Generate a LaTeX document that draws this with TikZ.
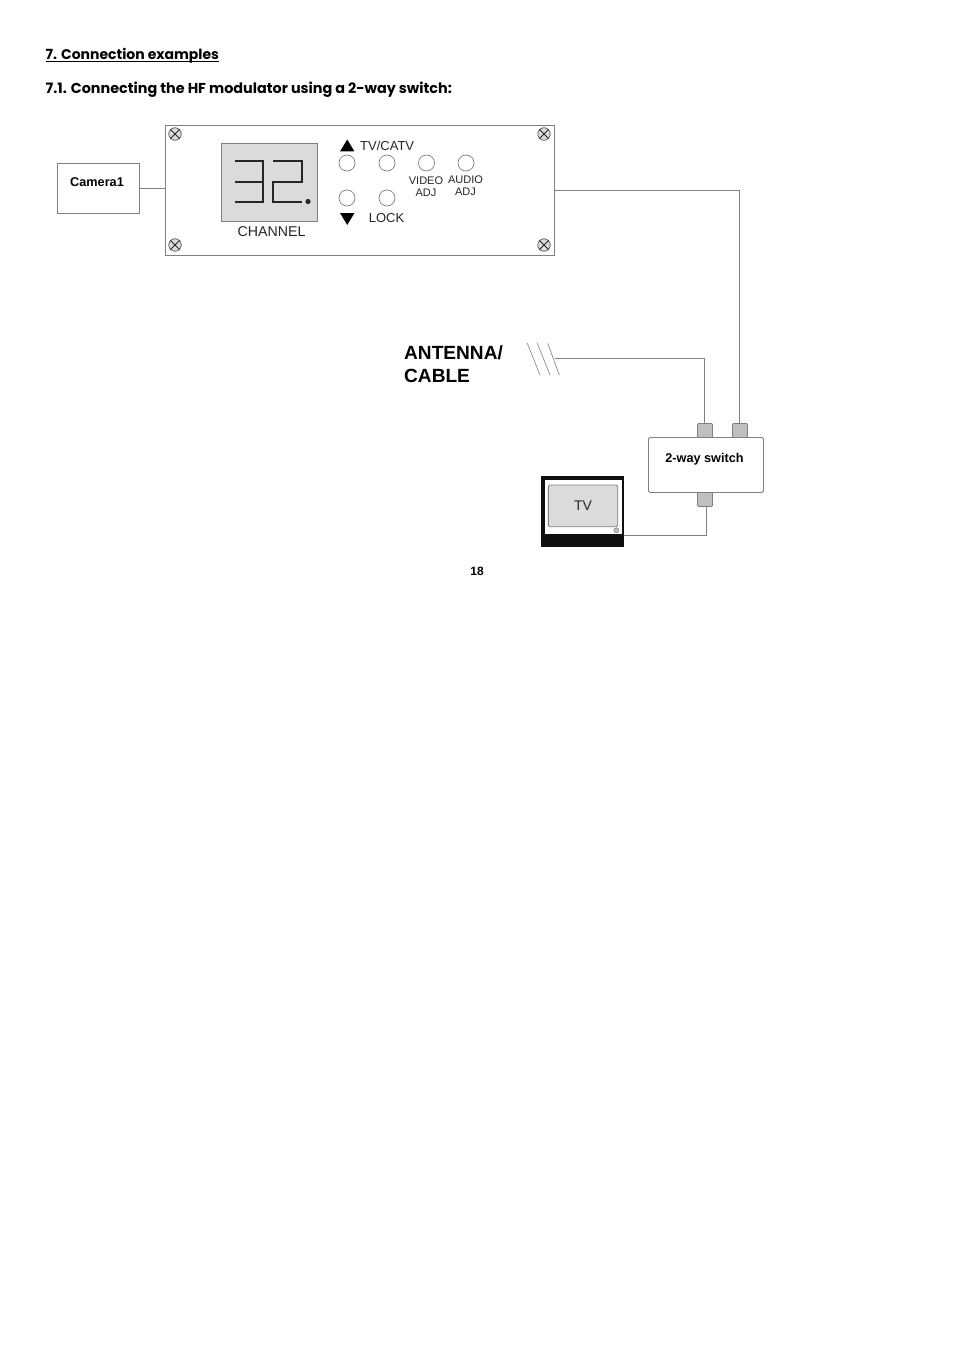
\documentclass[tikz,border=0pt]{standalone}
\usepackage{fontspec}
\setmainfont{Liberation Sans}
\newfontfamily\headfont{Poppins}
\definecolor{linegray}{gray}{0.5}
\definecolor{panelgray}{gray}{0.86}
\definecolor{portgray}{gray}{0.75}
\definecolor{inkgray}{gray}{0.15}
\tikzset{
  wire/.style={draw=linegray,line width=0.9pt},
  boxline/.style={draw=linegray,line width=0.9pt,fill=white,inner sep=0pt,outer sep=0pt,anchor=north west},
  head/.style={anchor=base west,inner sep=0pt,font=\headfont\bfseries\fontsize{14}{16}\selectfont},
  lab/.style={inner sep=0pt,text=inkgray,font=\fontsize{13}{15}\selectfont},
  smalllab/.style={inner sep=0pt,text=inkgray,font=\fontsize{11}{13}\selectfont},
  boldlab/.style={inner sep=0pt,text=black,font=\bfseries\fontsize{12.7}{14}\selectfont},
  bigbold/.style={inner sep=0pt,anchor=base west,text=black,font=\bfseries\fontsize{19.1}{22}\selectfont},
  knob/.style={circle,draw=linegray,line width=0.7pt,fill=white,minimum size=16pt,inner sep=0pt},
  screwhead/.style={circle,draw=inkgray!80,line width=0.7pt,fill=panelgray,minimum size=12.5pt,inner sep=0pt},
  port/.style={rectangle,rounded corners=1pt,draw=linegray,line width=0.7pt,fill=portgray,minimum width=15pt,minimum height=14pt,inner sep=0pt},
  seg/.style={draw=inkgray,line width=2pt},
  tri/.style={fill=black,draw=none},
  hatch/.style={draw=linegray,line width=0.6pt}
}
\begin{document}
\begin{tikzpicture}[x=1pt,y=-1pt]
\useasboundingbox[fill=white] (0,0) rectangle (954,1351);

\node[head] (h1) at (45.5,59.5) {7. Connection examples};
\draw[black,line width=1.2pt] (h1.base west) ++(0,2.4) -- ([yshift=-2.4pt]h1.base east);
\node[head,font=\headfont\bfseries\fontsize{14.35}{16}\selectfont] (h2) at (45.5,93.5) {7.1. Connecting the HF modulator using a 2-way switch:};

% modulator panel
\node[boxline,minimum width=389pt,minimum height=130pt] (modulator) at (165.5,125.5) {};
\node[boxline,minimum width=82pt,minimum height=50pt] (camera) at (57.5,163.5) {};
\node[boldlab] (cameralabel) at (97,182) {Camera1};
\draw[wire] (camera.east) -- (camera.east -| modulator.west);

\foreach \n/\x/\y in {s1/175/134,s2/544/134,s3/175/245,s4/544/245}
  \node[screwhead] (\n) at (\x,\y) {};
\foreach \n in {s1,s2,s3,s4}{
  \draw[inkgray,line width=0.9pt] (\n.north west) -- (\n.south east);
  \draw[inkgray,line width=0.9pt] (\n.north east) -- (\n.south west);
}

% display
\node[boxline,draw=linegray,fill=panelgray,minimum width=96pt,minimum height=78pt] (display) at (221.5,143.5) {};
\draw[seg] (235,160.7) -- (262.7,160.7) -- (262.7,202.3) -- (235,202.3);
\draw[seg] (235,181.7) -- (262.7,181.7);
\draw[seg] (273.3,160.7) -- (301.7,160.7) -- (301.7,181.7) -- (273.3,181.7) -- (273.3,202.3) -- (301.7,202.3);
\fill[inkgray] (308,201.5) circle (2.6pt);
\node[lab,font=\fontsize{14.2}{16}\selectfont] (channel) at (271.5,231.5) {CHANNEL};

% buttons
\foreach \n/\x/\y in {b1/347/163,b2/387/163,b3/426.5/163,b4/466/163,b5/347/198,b6/387/198}
  \node[knob] (\n) at (\x,\y) {};
\fill[tri] (340,151.5) -- (354.5,151.5) -- (347.2,139.5) -- cycle;
\fill[tri] (340,213) -- (354.5,213) -- (347.2,225) -- cycle;
\node[lab,anchor=west] (tvcatv) at (360,146) {TV/CATV};
\node[lab] (lock) at (386.5,218.5) {LOCK};
\node[smalllab] (video) at (426,181) {VIDEO};
\node[smalllab] (videoadj) at (426,193) {ADJ};
\node[smalllab] (audio) at (465.5,180) {AUDIO};
\node[smalllab] (audioadj) at (465.5,192) {ADJ};

% antenna
\node[bigbold] (ant1) at (404,359) {ANTENNA/};
\node[bigbold] (ant2) at (404,382) {CABLE};
\coordinate (h1a) at (527.3,343.3); \coordinate (h1b) at (540,375);
\coordinate (h2a) at (537.3,343.3); \coordinate (h2b) at (550,375);
\coordinate (h3a) at (547.7,343.3); \coordinate (h3b) at (559.3,375);
\draw[hatch] (h1a) -- (h1b);
\draw[hatch] (h2a) -- (h2b);
\draw[hatch] (h3a) -- (h3b);

% 2-way switch
\node[port] (portA) at (705,430.4) {};
\node[port] (portB) at (740,430.4) {};
\node[port] (portC) at (705,499.5) {};
\node[boxline,rounded corners=1.5pt,minimum width=115pt,minimum height=55pt] (switch) at (648.5,437.5) {};
\node[boldlab] (switchlabel) at (704.5,459.5) {2-way switch};

\coordinate (antout) at (555,358.5);
\coordinate (modout) at (554.5,190.5);
\coordinate (portAin) at (704.5,423.4);
\coordinate (portBin) at (739.5,423.4);
\coordinate (portCout) at (706.5,506.5);
\draw[wire] (antout) -| (portAin);
\draw[wire] (modout) -| (portBin);

% TV
\node[rectangle,fill=inkgray!40!black,minimum width=82.5pt,minimum height=71pt,inner sep=0pt,anchor=north west] (tv) at (541,476) {};
\node[rectangle,fill=white,minimum width=77pt,minimum height=54.7pt,inner sep=0pt,anchor=north west] (tvinner) at (544.7,479.3) {};
\node[boxline,rounded corners=1.5pt,fill=panelgray,minimum width=69.4pt,minimum height=41.7pt] (tvscreen) at (548.3,485) {};
\node[lab,font=\fontsize{14}{16}\selectfont] (tvlabel) at (583,505.5) {TV};
\node[circle,draw=linegray,line width=0.5pt,fill=portgray,minimum size=5pt,inner sep=0pt] (tvled) at (616.3,530.3) {};
\coordinate (tvout) at (623.5,535.5);
\draw[wire] (portCout) |- (tvout);

\node[inner sep=0pt,font=\bfseries\fontsize{12}{14}\selectfont] (pagenum) at (477,571.5) {18};
\end{tikzpicture}
\end{document}
